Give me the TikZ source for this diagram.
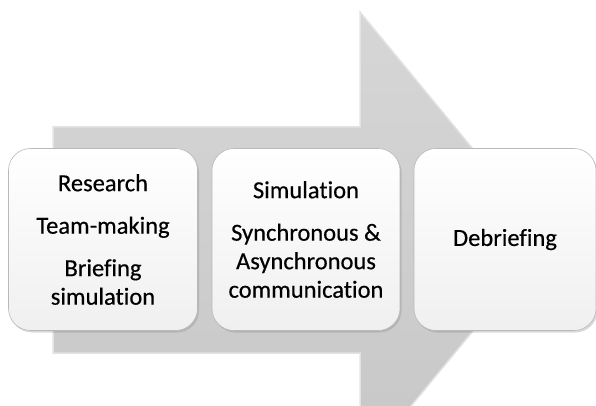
\documentclass[tikz,border=0pt]{standalone}
\usepackage{fontspec}
\setmainfont{Carlito}[Ligatures=NoCommon,UprightFeatures={FakeBold=0.4}]
\usetikzlibrary{shadows}

\begin{document}
\begin{tikzpicture}[x=1pt,y=-1pt,
  stage/.style={shape=rectangle,rounded corners=22pt,draw=gray!55,line width=0.6pt,top color=white,bottom color=gray!12,align=center,inner sep=0pt,minimum height=182pt,font=\fontsize{24.5}{28.5}\selectfont,drop shadow={opacity=0.3,shadow xshift=1.5pt,shadow yshift=-2pt}}]
\useasboundingbox (0,0) rectangle (596,406);
\clip (0,0) rectangle (596,406);
% the big arrow behind the stages
\fill[top color=gray!32,bottom color=gray!44,draw=gray!22,line width=1.5pt] (53,127) -- (360,127) -- (360,12) -- (548,240) -- (360,468) -- (360,353) -- (53,353) -- cycle;
\node[stage,minimum width=189pt] (0) at (103,239.5) {Research\\[14pt]Team-making\\[14pt]Briefing\\simulation};
\node[stage,minimum width=188pt] (1) at (306,239.5) {Simulation\\[14pt]Synchronous \&\\Asynchronous\\communication};
\node[stage,minimum width=182pt] (2) at (505,239.5) {Debriefing};
\end{tikzpicture}
\end{document}
